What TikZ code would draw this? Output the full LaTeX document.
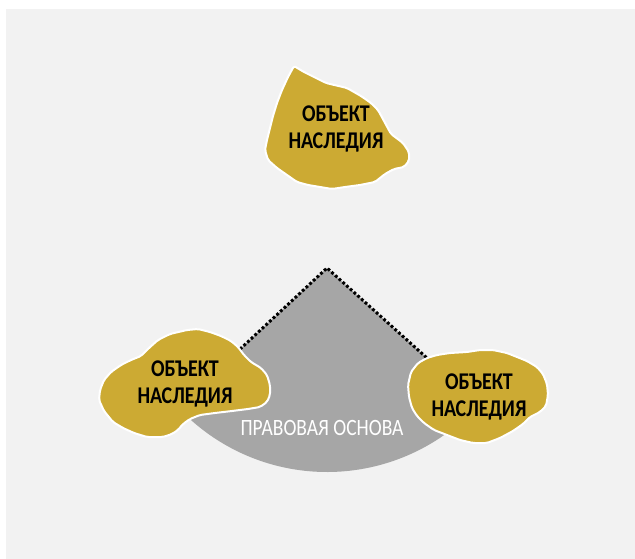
\documentclass[tikz,border=0pt]{standalone}
\usepackage{fontspec}
\setmainfont{Carlito}
\usepackage{tikz}
\usepackage{graphicx}
\usepackage{xcolor}
\usetikzlibrary{positioning}

\definecolor{bgGray}{HTML}{F2F2F2}
\definecolor{baseGray}{HTML}{A6A6A6}
\definecolor{gold}{HTML}{CCAA33}

\newcommand{\tall}[1]{\scalebox{1}[1.2]{#1}}

\begin{document}
\begin{tikzpicture}[x=1pt, y=-1pt,
  blob/.style={fill=gold, draw=white, line width=2pt, line join=round, rounded corners=2pt},
  objtext/.style={font=\fontsize{20}{27}\selectfont\bfseries, align=center, text=black},
  dotline/.style={line width=3pt, dash pattern=on 2.8pt off 2.2pt, black}]

\useasboundingbox (0,0) rectangle (635,559);
\fill[bgGray] (6,9) rectangle (635,559);

% legal basis sector
\coordinate (S) at (327,268);
\path (S) ++(42:204) coordinate (SR);
\path (S) ++(137:204) coordinate (SL);
\fill[baseGray] (S) -- (SR) arc[start angle=42, end angle=137, radius=204] -- cycle;
\draw[dotline] (SL) -- (S) -- (SR);
\node[text=white, font=\fontsize{19.5}{22}\selectfont] (P) at (322,428) {\tall{ПРАВОВАЯ ОСНОВА}};

% top object
\draw[blob] (294,66) -- (304,72) -- (312,76) -- (326,83) -- (347,88) -- (361,96) -- (371,103)
  -- (378,110) -- (384,121) -- (391,134) -- (403,143) -- (409,152) -- (409,161) -- (404,167)
  -- (394,169) -- (385,174) -- (375,182) -- (360,185) -- (345,187) -- (332,189) -- (320,187)
  -- (308,185) -- (297,182) -- (287,175) -- (277,168) -- (268,160) -- (265,150) -- (267,140)
  -- (270,128) -- (273,116) -- (277,103) -- (282,90) -- (288,77) -- cycle;
\node[objtext] (O1) at (336,129) {\tall{ОБЪЕКТ}\\\tall{НАСЛЕДИЯ}};

% left object
\draw[blob] (187,330) -- (198,329) -- (210,332) -- (221,336) -- (231,341) -- (238,347) -- (244,355)
  -- (251,362) -- (261,368) -- (267,375) -- (270,385) -- (270,395) -- (267,402) -- (260,407)
  -- (248,409) -- (232,411) -- (215,413) -- (200,415) -- (190,419) -- (183,424) -- (178,430)
  -- (172,434) -- (163,437) -- (147,437) -- (134,433) -- (123,428) -- (113,422) -- (104,411)
  -- (99,400) -- (100,390) -- (104,380) -- (111,372) -- (121,365) -- (131,360) -- (141,356)
  -- (149,348) -- (158,340) -- (170,334) -- cycle;
\node[objtext] (O2) at (185,384) {\tall{ОБЪЕКТ}\\\tall{НАСЛЕДИЯ}};

% right object
\draw[blob] (427,358) -- (437,355) -- (450,353) -- (467,352) -- (480,350) -- (493,350) -- (507,353)
  -- (517,357) -- (527,361) -- (537,367) -- (543,374) -- (547,384) -- (548,395) -- (546,406)
  -- (540,412) -- (530,417) -- (523,424) -- (513,431) -- (500,438) -- (487,443) -- (473,443)
  -- (460,440) -- (447,435) -- (434,430) -- (424,423) -- (417,416) -- (412,408) -- (409,397)
  -- (408,385) -- (411,372) -- (418,363) -- cycle;
\node[objtext] (O3) at (479,397) {\tall{ОБЪЕКТ}\\\tall{НАСЛЕДИЯ}};
\end{tikzpicture}
\end{document}
